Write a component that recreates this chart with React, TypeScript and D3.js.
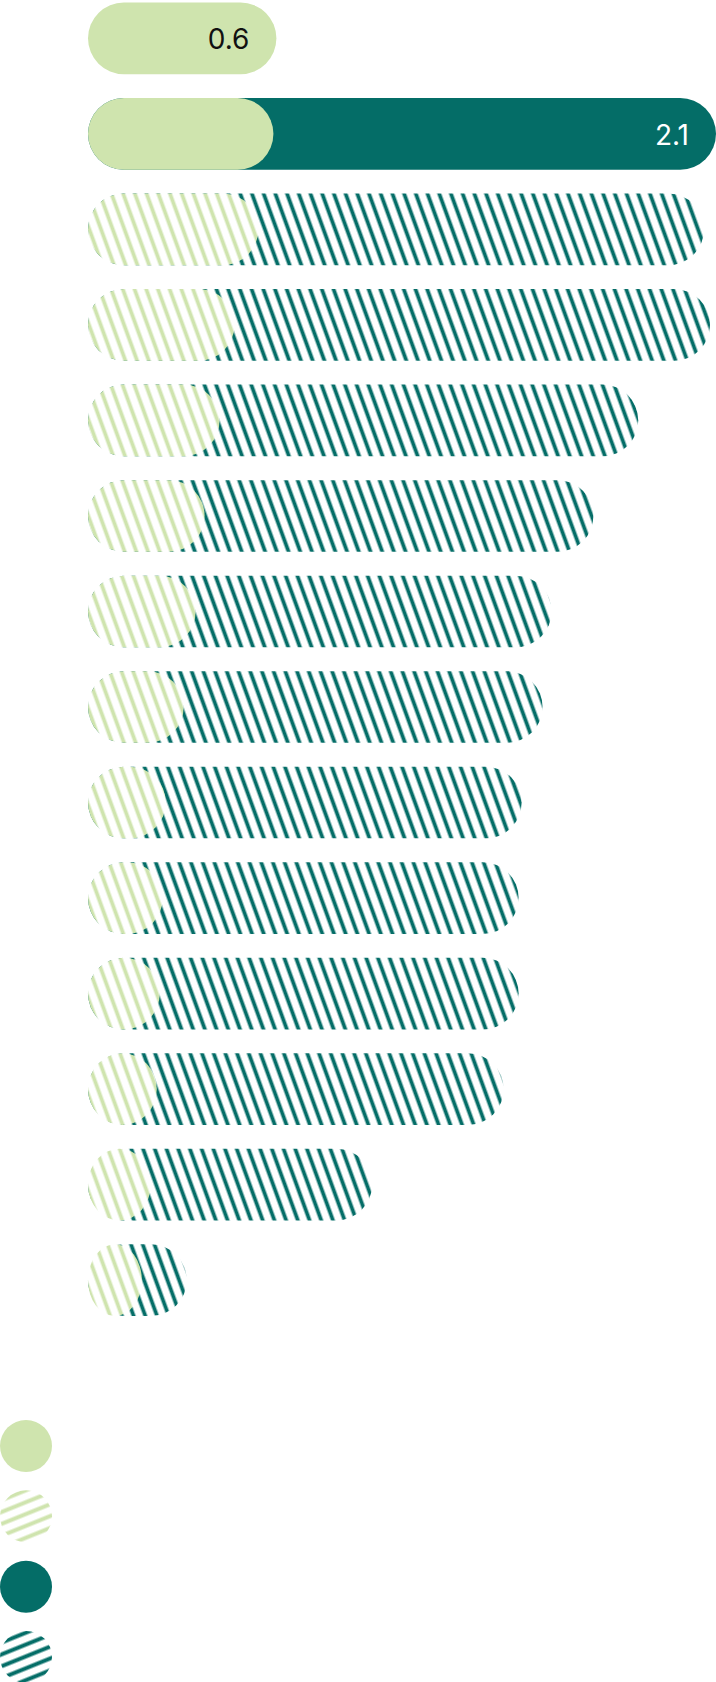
import React, { useEffect, useRef } from 'react';
import * as d3 from 'd3';

// rows from top to bottom (no category labels are shown in the chart)
const rowIds = ['r1', 'r2', 'r3', 'r4', 'r5', 'r6', 'r7', 'r8', 'r9', 'r10', 'r11', 'r12', 'r13', 'r14'];
const rowStyles = ['solid', 'solid', 'hatch', 'hatch', 'hatch', 'hatch', 'hatch', 'hatch', 'hatch', 'hatch', 'hatch', 'hatch', 'hatch', 'hatch'];
// light (first) segment, drawn from zero
const lightValues = [0.63, 0.62, 0.57, 0.49, 0.44, 0.39, 0.36, 0.32, 0.26, 0.25, 0.24, 0.23, 0.21, 0.18];
// full bar length (dark bar drawn behind the light one); 0 = no dark bar
const totalValues = [0, 2.1, 2.06, 2.08, 1.84, 1.69, 1.55, 1.52, 1.45, 1.44, 1.44, 1.39, 0.95, 0.33];
// which value is printed at the end of the bar
const labelKinds = ['light', 'total', null, null, null, null, null, null, null, null, null, null, null, null];

const legendKeys = ['lightSolid', 'lightHatch', 'darkSolid', 'darkHatch'];

const LIGHT = '#cfe4ae';
const DARK = '#046d67';

const App: React.FC = () => {
  const svgRef = useRef<SVGSVGElement>(null);

  useEffect(() => {
    if (!svgRef.current) return;

    const width = 716;
    const height = 1682;

    const svg = d3.select(svgRef.current).attr('width', width).attr('height', height);
    svg.selectAll('*').remove();

    const defs = svg.append('defs');

    // bar hatch: vertical stripes leaning back 20deg
    const makeBarPattern = (id: string, color: string) => {
      const s = 11;
      const p = defs
        .append('pattern')
        .attr('id', id)
        .attr('patternUnits', 'userSpaceOnUse')
        .attr('width', s)
        .attr('height', s)
        .attr('patternTransform', 'rotate(-20)');
      p.append('rect').attr('width', s).attr('height', s).attr('fill', '#fff');
      p.append('line')
        .attr('x1', s / 2)
        .attr('x2', s / 2)
        .attr('y1', -1)
        .attr('y2', s + 1)
        .attr('stroke', color)
        .attr('stroke-width', 3.8);
    };
    makeBarPattern('hatch-light', LIGHT);
    makeBarPattern('hatch-dark', DARK);

    // legend hatch: shallow stripes rising to the right
    const makeLegendPattern = (id: string, color: string) => {
      const s = 11;
      const p = defs
        .append('pattern')
        .attr('id', id)
        .attr('patternUnits', 'userSpaceOnUse')
        .attr('width', s)
        .attr('height', s)
        .attr('patternTransform', 'rotate(-22)');
      p.append('rect').attr('width', s).attr('height', s).attr('fill', '#fff');
      p.append('line')
        .attr('x1', -1)
        .attr('x2', s + 1)
        .attr('y1', s / 2)
        .attr('y2', s / 2)
        .attr('stroke', color)
        .attr('stroke-width', 4);
    };
    makeLegendPattern('leg-hatch-light', LIGHT);
    makeLegendPattern('leg-hatch-dark', DARK);

    const x = d3.scaleLinear().domain([0, 2.1]).range([88, 716]);
    const y = d3
      .scaleBand<string>()
      .domain(rowIds)
      .range([2.5, 1316])
      .paddingInner(0.25)
      .paddingOuter(0);

    const bh = y.bandwidth();
    const r = bh / 2;

    const rows = rowIds.map((id, i) => ({
      id,
      style: rowStyles[i],
      light: lightValues[i],
      total: totalValues[i],
      label: labelKinds[i],
    }));

    const g = svg.append('g');

    // dark bars (behind)
    g.selectAll('.dark-bar')
      .data(rows.filter((d) => d.total > 0))
      .enter()
      .append('rect')
      .attr('class', 'dark-bar')
      .attr('x', x(0))
      .attr('y', (d) => y(d.id) ?? 0)
      .attr('width', (d) => x(d.total) - x(0))
      .attr('height', bh)
      .attr('rx', r)
      .attr('fill', (d) => (d.style === 'solid' ? DARK : 'url(#hatch-dark)'));

    // light bars (front)
    g.selectAll('.light-bar')
      .data(rows)
      .enter()
      .append('rect')
      .attr('class', 'light-bar')
      .attr('x', x(0))
      .attr('y', (d) => y(d.id) ?? 0)
      .attr('width', (d) => x(d.light) - x(0))
      .attr('height', bh)
      .attr('rx', r)
      .attr('fill', (d) => (d.style === 'solid' ? LIGHT : 'url(#hatch-light)'));

    const fmt = d3.format('.1f');
    g.selectAll('.bar-label')
      .data(rows.filter((d) => d.label))
      .enter()
      .append('text')
      .attr('class', 'bar-label')
      .attr('x', (d) => x(d.label === 'light' ? d.light : d.total) - 27)
      .attr('y', (d) => (y(d.id) ?? 0) + bh / 2 + 1)
      .attr('text-anchor', 'end')
      .attr('dominant-baseline', 'central')
      .attr('font-family', 'Inter, sans-serif')
      .attr('font-size', 28)
      .attr('fill', (d) => (d.label === 'light' ? '#111' : '#fff'))
      .text((d) => fmt(d.label === 'light' ? d.light : d.total));

    // legend swatches
    const legendY = d3.scalePoint<string>().domain(legendKeys).range([1446, 1657]);
    const legendFill: Record<string, string> = {
      lightSolid: LIGHT,
      lightHatch: 'url(#leg-hatch-light)',
      darkSolid: DARK,
      darkHatch: 'url(#leg-hatch-dark)',
    };
    svg
      .append('g')
      .selectAll('circle')
      .data(legendKeys)
      .enter()
      .append('circle')
      .attr('cx', 26)
      .attr('cy', (d) => legendY(d) ?? 0)
      .attr('r', 26)
      .attr('fill', (d) => legendFill[d]);
  }, []);

  return (
    <svg
      ref={svgRef}
      style={{ position: 'absolute', left: 0, top: 0, display: 'block', background: '#fff' }}
    ></svg>
  );
};

export default App;
